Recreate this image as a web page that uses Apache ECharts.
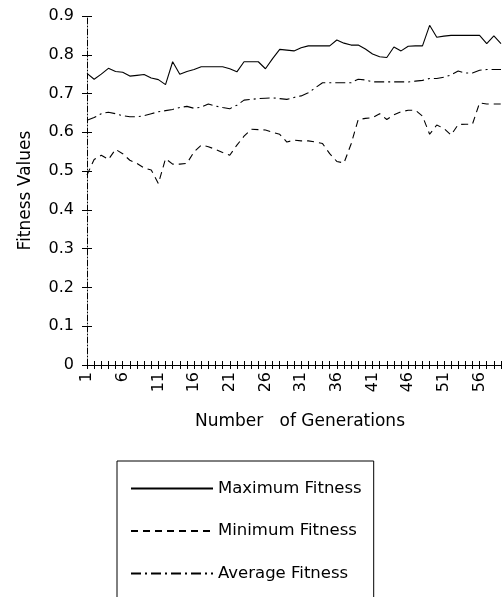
<!DOCTYPE html>
<html>
<head>
<meta charset="utf-8">
<script src="https://cdn.jsdelivr.net/npm/echarts@6/dist/echarts.min.js"></script>
<style>
html,body{margin:0;padding:0;background:#fff;}
#c{width:503px;height:597px;}
</style>
</head>
<body>
<div id="c"></div>
<script>
const generations = Array.from({length: 59}, (_, i) => String(i + 1));
const maxFitness = [0.752,0.737,0.750,0.765,0.757,0.755,0.745,0.747,0.749,0.740,0.736,0.723,0.782,0.750,0.757,0.762,0.769,0.769,0.769,0.769,0.764,0.756,0.782,0.782,0.782,0.764,0.790,0.814,0.812,0.810,0.818,0.823,0.823,0.823,0.823,0.838,0.830,0.825,0.825,0.815,0.802,0.795,0.793,0.820,0.810,0.822,0.823,0.823,0.876,0.845,0.848,0.850,0.850,0.850,0.850,0.850,0.829,0.849,0.829];
const minFitness = [0.490,0.530,0.541,0.530,0.556,0.545,0.528,0.520,0.508,0.503,0.468,0.532,0.518,0.518,0.520,0.550,0.567,0.563,0.556,0.548,0.541,0.567,0.590,0.608,0.607,0.606,0.600,0.595,0.575,0.580,0.578,0.578,0.575,0.571,0.545,0.525,0.521,0.570,0.633,0.636,0.638,0.648,0.633,0.645,0.653,0.657,0.657,0.642,0.595,0.619,0.610,0.593,0.620,0.621,0.621,0.676,0.673,0.673,0.673];
const avgFitness = [0.631,0.638,0.648,0.652,0.648,0.643,0.640,0.640,0.643,0.648,0.653,0.656,0.659,0.664,0.667,0.662,0.665,0.673,0.668,0.664,0.661,0.670,0.683,0.685,0.687,0.688,0.689,0.687,0.685,0.690,0.694,0.702,0.715,0.728,0.728,0.728,0.728,0.728,0.737,0.735,0.730,0.730,0.730,0.730,0.730,0.730,0.732,0.734,0.739,0.739,0.742,0.748,0.758,0.753,0.753,0.760,0.762,0.762,0.762];
const seriesNames = ['Maximum Fitness', 'Minimum Fitness', 'Average Fitness'];
const yTicks = [0, 0.1, 0.2, 0.3, 0.4, 0.5, 0.6, 0.7, 0.8, 0.9];

const FONT = 'DejaVu Sans';
const chart = echarts.init(document.getElementById('c'));
const tickStyle = {color: '#000', width: 1};
chart.setOption({
  animation: false,
  backgroundColor: '#fff',
  grid: {left: 87, right: 2, top: 16, bottom: 232, containLabel: false},
  xAxis: [{
    type: 'category', data: generations, boundaryGap: false,
    axisLine: {lineStyle: {color: '#000', width: 1}},
    axisTick: {interval: 0, length: 4, lineStyle: tickStyle},
    axisLabel: {interval: 4, rotate: 90, fontSize: 16, fontFamily: FONT, color: '#000', margin: 7},
    name: 'Number   of Generations', nameLocation: 'middle', nameGap: 48,
    nameTextStyle: {fontSize: 17, fontFamily: FONT, color: '#000', padding: [0, 0, 0, 12]},
    splitLine: {show: false}
  }, {
    type: 'category', data: generations, boundaryGap: false, position: 'bottom',
    axisLine: {show: false},
    axisTick: {interval: 0, inside: true, length: 4, lineStyle: tickStyle},
    axisLabel: {show: false}, splitLine: {show: false}
  }],
  yAxis: [{
    type: 'value', min: yTicks[0], max: yTicks[yTicks.length - 1], interval: 0.1,
    axisLine: {show: true, lineStyle: {color: '#000', width: 1, type: [6, 2, 1, 2]}},
    axisTick: {show: true, length: 5, lineStyle: tickStyle},
    axisLabel: {fontSize: 16, fontFamily: FONT, color: '#000', margin: 13, padding: [5, 0, 0, 0],
      formatter: v => v === 0 ? '0' : v.toFixed(1)},
    splitLine: {show: false},
    name: 'Fitness Values', nameLocation: 'middle', nameGap: 53,
    nameTextStyle: {fontSize: 17, fontFamily: FONT, color: '#000'}
  }, {
    type: 'value', min: 0, max: 0.9, interval: 0.1, position: 'left',
    axisLine: {show: false},
    axisTick: {show: true, inside: true, length: 5, lineStyle: tickStyle},
    axisLabel: {show: false}, splitLine: {show: false}
  }],
  legend: {
    orient: 'vertical', left: 117, top: 461, height: 115,
    padding: [19, 12, 40, 13], itemGap: 25.5, itemWidth: 82, itemHeight: 14, itemTextGap: 10,
    borderColor: '#000', borderWidth: 1,
    itemStyle: {opacity: 0},
    textStyle: {fontSize: 16.5, fontFamily: FONT, color: '#000'},
    data: seriesNames
  },
  series: [
    {name: seriesNames[0], type: 'line', data: maxFitness, symbol: 'none',
     lineStyle: {color: '#000', width: 1.1, type: 'solid'}, itemStyle: {color: '#000'}},
    {name: seriesNames[1], type: 'line', data: minFitness, symbol: 'none',
     lineStyle: {color: '#000', width: 1.1, type: [7, 5]}, itemStyle: {color: '#000'}},
    {name: seriesNames[2], type: 'line', data: avgFitness, symbol: 'none',
     lineStyle: {color: '#000', width: 1.1, type: [10, 4, 2, 4]}, itemStyle: {color: '#000'}}
  ]
});
</script>
</body>
</html>
